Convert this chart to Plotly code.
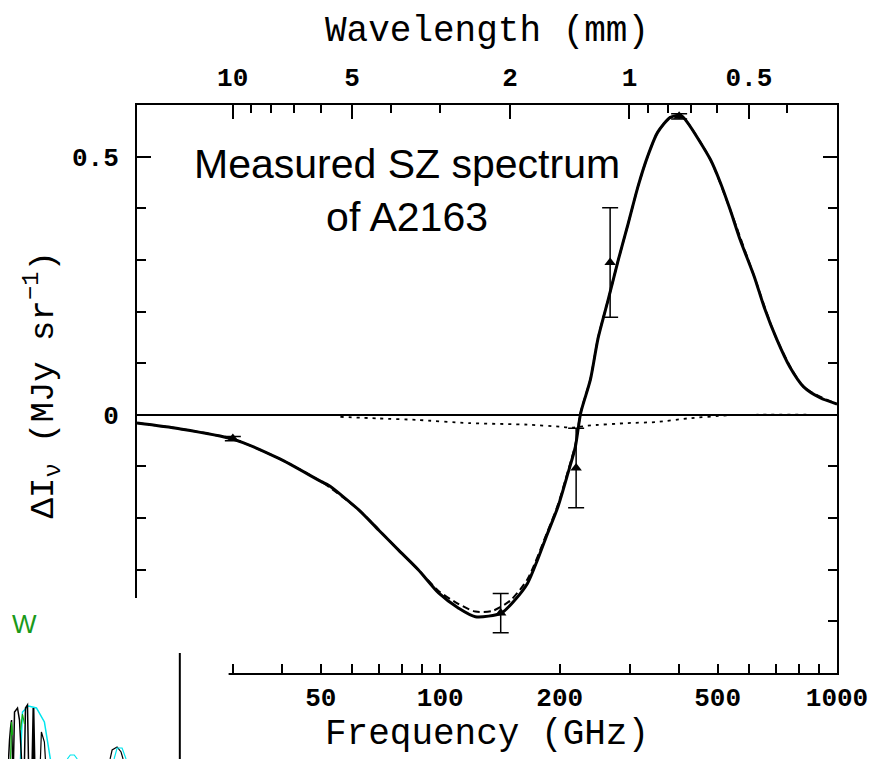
import math
import plotly.graph_objects as go

# ---------------- data ----------------
freq_solid = [17.2, 22, 30, 39.3, 50, 52.4, 62.3, 69.9, 78.5, 88, 99, 111, 122.6, 142.5,
              154, 166, 176, 185, 198, 210, 219, 226, 239, 250, 265, 281, 298, 315, 333,
              353, 380, 404, 420, 480, 508, 538, 570, 619, 655, 706, 760, 824, 906, 1000]
val_solid = [-0.016, -0.027, -0.047, -0.085, -0.129, -0.137, -0.184, -0.223, -0.262, -0.300,
             -0.345, -0.374, -0.391, -0.384, -0.359, -0.326, -0.280, -0.236, -0.178, -0.112,
             -0.062, 0.004, 0.068, 0.149, 0.223, 0.300, 0.372, 0.442, 0.500, 0.547, 0.576,
             0.580, 0.566, 0.494, 0.450, 0.397, 0.339, 0.267, 0.209, 0.145, 0.093, 0.054,
             0.033, 0.021]

freq_dash = [17.2, 22, 30, 39.3, 50, 62.3, 78.5, 88, 99, 111, 122.6, 135, 150, 166, 185,
             198, 210, 219, 226, 239, 250, 265, 281, 298, 315, 333, 353, 380, 404, 420,
             480, 538, 619, 706, 824, 1000]
val_dash = [-0.016, -0.027, -0.047, -0.085, -0.129, -0.184, -0.262, -0.300, -0.341, -0.366,
            -0.381, -0.380, -0.360, -0.318, -0.232, -0.174, -0.108, -0.058, 0.005, 0.069,
            0.150, 0.223, 0.300, 0.372, 0.442, 0.500, 0.547, 0.576, 0.580, 0.566, 0.494,
            0.397, 0.267, 0.145, 0.054, 0.021]

freq_kin = [56, 70, 88, 118, 166, 200, 215, 235, 297, 350, 420, 530, 600, 1000]
val_kin = [-0.004, -0.007, -0.010, -0.016, -0.019, -0.023, -0.025, -0.021, -0.016, -0.014,
           -0.007, -0.001, 0.0, 0.0]

pt_freq = [30, 142, 220, 268, 400]
pt_val = [-0.046, -0.384, -0.103, 0.295, 0.578]
pt_err = [0.004, 0.038, 0.077, 0.106, 0.005]

x_major = [50, 100, 200, 500, 1000]
x_minor = [20, 30, 40, 60, 70, 80, 90, 300, 400, 600, 700, 800, 900]
wl_major = [10, 5, 2, 1, 0.5]
wl_minor = [9, 8, 7, 6, 4, 3, 0.9, 0.8, 0.7, 0.6, 0.4, 0.3]
y_major = [0, 0.5]
y_minor = [-0.4, -0.3, -0.2, -0.1, 0.1, 0.2, 0.3, 0.4]

C_MM_GHZ = 299.792458  # c in mm*GHz

# ---------------- figure ----------------
OFF = 8                      # default body margin of the html page
W, H = 872, 751
ML, MR, MT, MB = 129, 40, 97, 86
PW, PH = W - ML - MR, H - MT - MB


def px(x, y):
    """screen pixel position -> paper coords"""
    return (x - OFF - ML) / PW, (OFF + H - MB - y) / PH


MONO = "Liberation Mono"
xr = [math.log10(17.2), 3]

fig = go.Figure()
fig.add_trace(go.Scatter(x=freq_solid, y=val_solid, mode="lines",
                         line=dict(color="black", width=3, shape="spline", smoothing=0.7),
                         hoverinfo="skip", showlegend=False))
fig.add_trace(go.Scatter(x=freq_dash, y=val_dash, mode="lines",
                         line=dict(color="black", width=2, dash="7px,4px", shape="spline", smoothing=0.7),
                         hoverinfo="skip", showlegend=False))
fig.add_trace(go.Scatter(x=freq_kin, y=val_kin, mode="lines",
                         line=dict(color="black", width=1.8, dash="3px,5px", shape="spline", smoothing=0.6),
                         hoverinfo="skip", showlegend=False))
fig.add_trace(go.Scatter(x=pt_freq, y=pt_val, mode="markers",
                         marker=dict(symbol="triangle-up", size=10, color="black"),
                         error_y=dict(type="data", array=pt_err, visible=True, color="black",
                                      thickness=1.5, width=8),
                         showlegend=False))
# carrier for the top (wavelength) axis
fig.add_trace(go.Scatter(x=[pt_freq[0]], y=[None], xaxis="x2", mode="markers",
                         showlegend=False, hoverinfo="skip"))

tickfont = dict(family=MONO, size=26, color="black", weight="bold")

fig.update_layout(
    width=W, height=H,
    margin=dict(l=ML, r=MR, t=MT, b=MB),
    paper_bgcolor="white", plot_bgcolor="white",
    xaxis=dict(type="log", range=xr, showgrid=False, zeroline=False,
               showline=True, linecolor="black", linewidth=2, mirror=False,
               tickmode="array", tickvals=x_major, ticktext=[str(v) for v in x_major],
               ticks="inside", ticklen=9, tickwidth=1.5, tickcolor="black",
               ticklabelstandoff=0,
               minor=dict(tickmode="array", tickvals=x_minor, ticks="inside", ticklen=9,
                          tickwidth=1.5, tickcolor="black", showgrid=False),
               tickfont=tickfont),
    xaxis2=dict(type="log", range=xr, overlaying="x", side="top", anchor="y",
                showgrid=False, zeroline=False,
                showline=True, linecolor="black", linewidth=2,
                tickmode="array", tickvals=[C_MM_GHZ / w for w in wl_major],
                ticktext=[("%g" % w) for w in wl_major],
                ticks="inside", ticklen=14, tickwidth=1.5, tickcolor="black",
                ticklabelstandoff=7,
                minor=dict(tickmode="array", tickvals=[C_MM_GHZ / w for w in wl_minor],
                           ticks="inside", ticklen=8, tickwidth=1.5, tickcolor="black",
                           showgrid=False),
                tickfont=tickfont),
    yaxis=dict(range=[-0.5, 0.6], showgrid=False,
               zeroline=True, zerolinecolor="black", zerolinewidth=1.5,
               showline=True, linecolor="black", linewidth=2, mirror="ticks",
               tickmode="array", tickvals=y_major, ticktext=["0", "0.5"],
               ticks="inside", ticklen=14, tickwidth=1.5, tickcolor="black",
               ticklabelstandoff=11,
               minor=dict(tickmode="array", tickvals=y_minor, ticks="inside", ticklen=9,
                          tickwidth=1.5, tickcolor="black", showgrid=False),
               tickfont=tickfont),
)

# ---------------- titles ----------------
ann = []
x, y = px(488, 32)
ann.append(dict(text="Wavelength (mm)", x=x, y=y, xref="paper", yref="paper",
                showarrow=False, xanchor="center", yanchor="middle",
                font=dict(family=MONO, size=36, color="black")))
x, y = px(488, 734)
ann.append(dict(text="Frequency (GHz)", x=x, y=y, xref="paper", yref="paper",
                showarrow=False, xanchor="center", yanchor="middle",
                font=dict(family=MONO, size=36, color="black")))
x, y = px(42, 385)
ann.append(dict(text="ΔI<sub>ν</sub> (MJy sr<sup>−1</sup>)", x=x, y=y, xref="paper", yref="paper",
                showarrow=False, xanchor="center", yanchor="middle", textangle=-90,
                font=dict(family=MONO, size=34, color="black")))
x, y = px(408, 190)
ann.append(dict(text="Measured SZ spectrum<br>of A2163", x=x, y=y, xref="paper", yref="paper",
                showarrow=False, xanchor="center", yanchor="middle", align="center",
                font=dict(family="Liberation Sans", size=41, color="black")))

# ---------------- pasted fragment in the lower-left corner ----------------
shapes = []
x0, y0 = px(0, 770)
x1, y1 = px(229, 598)
shapes.append(dict(type="rect", xref="paper", yref="paper", x0=x0, y0=y0, x1=x1, y1=y1,
                   fillcolor="white", line=dict(width=0), layer="above"))
xa, ya = px(180, 653)
xb, yb = px(180, 759)
shapes.append(dict(type="line", xref="paper", yref="paper", x0=xa, y0=ya, x1=xb, y1=yb,
                   line=dict(color="black", width=2), layer="above"))


def path(points):
    segs = []
    for i, (a, b) in enumerate(points):
        u, v = px(a, b)
        segs.append(("M" if i == 0 else "L") + " %.5f,%.5f" % (u, v))
    return " ".join(segs)


frag = [
    ([(20, 759), (22, 712), (28, 706), (36, 708), (44, 722), (50, 759)], "#00e5ee", 1.5),
    ([(8, 759), (9, 740), (10, 728), (11, 720), (12, 759)], "black", 1.5),
    ([(13, 759), (14, 712), (17, 708), (19, 720), (21, 759)], "black", 1.5),
    ([(24, 759), (25, 708), (27, 705), (28, 759)], "black", 1.5),
    ([(32, 759), (33, 708), (34, 759)], "black", 2),
    ([(40, 759), (41, 732), (44, 742), (45, 759)], "black", 1.2),
    ([(10, 759), (11, 722), (12, 735)], "#10b010", 1.2),
    ([(20, 730), (22, 714), (24, 724)], "#10b010", 1.2),
    ([(110, 759), (112, 750), (117, 747), (121, 752), (123, 759)], "black", 1.2),
    ([(114, 759), (117, 748), (122, 748), (126, 759)], "#00e5ee", 1.2),
    ([(67, 759), (70, 755), (74, 755), (77, 759)], "#00e5ee", 1.2),
]
for pts, col, wdt in frag:
    shapes.append(dict(type="path", xref="paper", yref="paper", path=path(pts),
                       line=dict(color=col, width=wdt), layer="above"))

x, y = px(9, 624)
ann.append(dict(text="W", x=x, y=y, xref="paper", yref="paper", showarrow=False,
                xanchor="left", yanchor="middle",
                font=dict(family="Liberation Sans", size=26, color="#1a9a1a")))

fig.update_layout(annotations=ann, shapes=shapes)

fig.write_html("out.html")
